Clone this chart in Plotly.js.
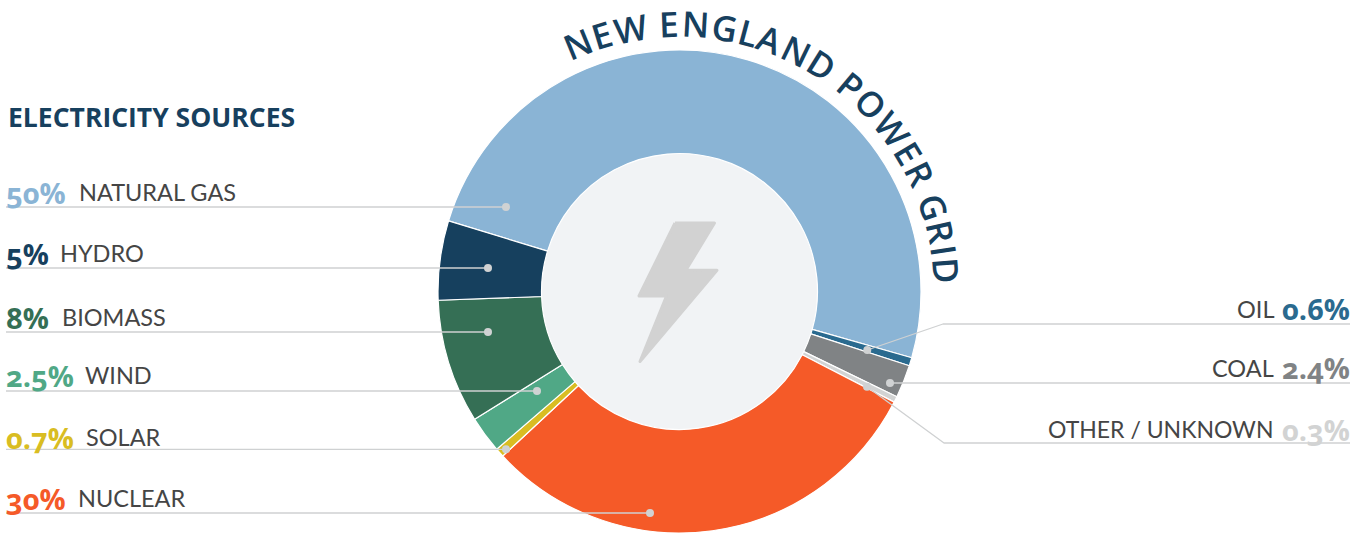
<!DOCTYPE html>
<html><head><meta charset="utf-8">
<script src="https://cdn.plot.ly/plotly-3.0.1.min.js"></script>
<style>
html,body{margin:0;padding:0;background:#fff;overflow:hidden}
#chart{width:1367px;height:533px}
.annotation-text{font-variant-numeric:oldstyle-nums;font-feature-settings:"onum" 1}
.shapelayer path{stroke-linejoin:round}
</style></head><body><div id="chart"></div>
<script>
// ---- data ----
const sources   = ["Natural gas","Oil","Coal","Other / unknown","Nuclear","Solar","Wind","Biomass","Hydro"];
const arcShares = [49.7,0.55,2.2,0.4,30.5,0.6,2.45,8.3,5.3];
const colors    = ["#8ab4d5","#2a6a8f","#808385","#d2d3d3","#f55a28","#d9bd22","#50a886","#356f55","#16405e"];
const leftNames   = ["NATURAL GAS","HYDRO","BIOMASS","WIND","SOLAR","NUCLEAR"];
const leftPercent = ["50%","5%","8%","2.5%","0.7%","30%"];
const leftColors  = ["#8ab4d5","#16405e","#356f55","#50a886","#d9bd22","#f55a28"];
const rightNames   = ["OIL","COAL","OTHER / UNKNOWN"];
const rightPercent = ["0.6%","2.4%","0.3%"];
const rightColors  = ["#2a6a8f","#808385","#d2d3d3"];
const heading = "ELECTRICITY SOURCES";
const ringTitle = "NEW ENGLAND POWER GRID";

// ---- layout ----
const W=1367,H=533,CX=679.5,CY=291.5,R=241.5,INNER=138;
const fx=x=>x/W, fy=y=>1-y/H;
const LINE="#cfd1d2", NAVY="#17405e", TEXT="#454545";
const FONT="Lato, sans-serif", HEAVY="'Open Sans', sans-serif";
const leftNameX=[78,59,61,84,85,77], leftRowY=[191.7,253,317,374.5,436.5,497.5];
const leftLineY=[207,268,332,391,449.3,513], leftDotX=[506,488,488,537,506,650];
const rightNameX=1275, rightRowY=[308.5,367.5,429], rightNameSize=[23.5,23.5,23];

const ann=[], shapes=[];
const text=(s,x,y,anchor,size,color,family,weight)=>ann.push({text:s,x:fx(x),y:fy(y),xref:"paper",yref:"paper",
  xanchor:anchor,yanchor:"middle",showarrow:false,borderpad:0,font:{family:family,size:size,color:color,weight:weight}});
const path=(pts,extra)=>shapes.push(Object.assign({type:"path",xref:"paper",yref:"paper",
  path:"M"+pts.map(p=>fx(p[0])+","+fy(p[1])).join("L")},extra));
const circle=(x,y,r,fill)=>shapes.push({type:"circle",xref:"paper",yref:"paper",x0:fx(x-r),x1:fx(x+r),y0:fy(y+r),y1:fy(y-r),
  fillcolor:fill,line:{width:0}});

text(heading,6.5,116.5,"left",26.5,NAVY,HEAVY,700);
leftNames.forEach((n,i)=>{
  text(leftPercent[i],5,leftRowY[i]+0.5,"left",29,leftColors[i],HEAVY,700);
  text(n,leftNameX[i],leftRowY[i],"left",23.5,TEXT,FONT,400);
  path([[6,leftLineY[i]],[leftDotX[i],leftLineY[i]]],{line:{color:LINE,width:1.3}});
  circle(leftDotX[i],leftLineY[i],4,"#d0d2d3");
});
rightNames.forEach((n,i)=>{
  text(rightPercent[i],1351,rightRowY[i],"right",29,rightColors[i],HEAVY,700);
  text(n,rightNameX,rightRowY[i],"right",rightNameSize[i],TEXT,FONT,400);
});
path([[1350,324],[943,324],[867.3,350]],{line:{color:LINE,width:1.3}});  circle(867.3,350,4,"#d0d2d3");
path([[1350,383],[890,383]],{line:{color:LINE,width:1.3}});              circle(890,383,4,"#d0d2d3");
path([[1350,443],[944,443],[867,386.7]],{line:{color:LINE,width:1.3}});  circle(867,386.7,4,"#d0d2d3");

// hub + bolt under the ring
shapes.push({type:"circle",layer:"below",xref:"paper",yref:"paper",x0:fx(CX-INNER),x1:fx(CX+INNER),y0:fy(CY+INNER),y1:fy(CY-INNER),
  fillcolor:"#f1f3f5",line:{width:0}});
path([[675,223],[714.5,223],[686,270],[717,270.3],[640,361.5],[666.5,296],[639,296],[675,223]],
  {fillcolor:"#d2d2d2",line:{color:"#d2d2d2",width:3},layer:"below"});

// title set letter by letter along the ring
const TITLE_SIZE=35, TITLE_R=268, START=-25.5, END=88.5, TITLE_WEIGHT=600;
const TF="Open Sans";
const ctx=document.createElement("canvas").getContext("2d");
ctx.font=TITLE_WEIGHT+" "+TITLE_SIZE+"px '"+TF+"'";
const adv=[...ringTitle].map(c=>ctx.measureText(c).width);
const total=adv.reduce((a,b)=>a+b,0);
let run=0;
[...ringTitle].forEach((c,i)=>{
  const t=START+(END-START)*(run+adv[i]/2)/total; run+=adv[i];
  if(c===" ")return;
  const a=t*Math.PI/180;
  ann.push({text:c,x:fx(CX+TITLE_R*Math.sin(a)),y:fy(CY-TITLE_R*Math.cos(a)),xref:"paper",yref:"paper",
    xanchor:"center",yanchor:"middle",showarrow:false,borderpad:0,textangle:t,font:{family:"'"+TF+"'",size:TITLE_SIZE,color:NAVY,weight:TITLE_WEIGHT}});
});

Plotly.newPlot("chart",[{
  type:"pie",labels:sources,values:arcShares,sort:false,direction:"clockwise",rotation:287,hole:INNER/R,
  marker:{colors:colors,line:{color:"#ffffff",width:1.2}},textinfo:"none",hoverinfo:"label",showlegend:false,
  domain:{x:[fx(CX-R),fx(CX+R)],y:[0,fy(CY-R)]}
}],{width:W,height:H,margin:{l:0,r:0,t:0,b:0},paper_bgcolor:"#fff",plot_bgcolor:"#fff",annotations:ann,shapes:shapes,showlegend:false},
{displayModeBar:false,staticPlot:true});
</script></body></html>
